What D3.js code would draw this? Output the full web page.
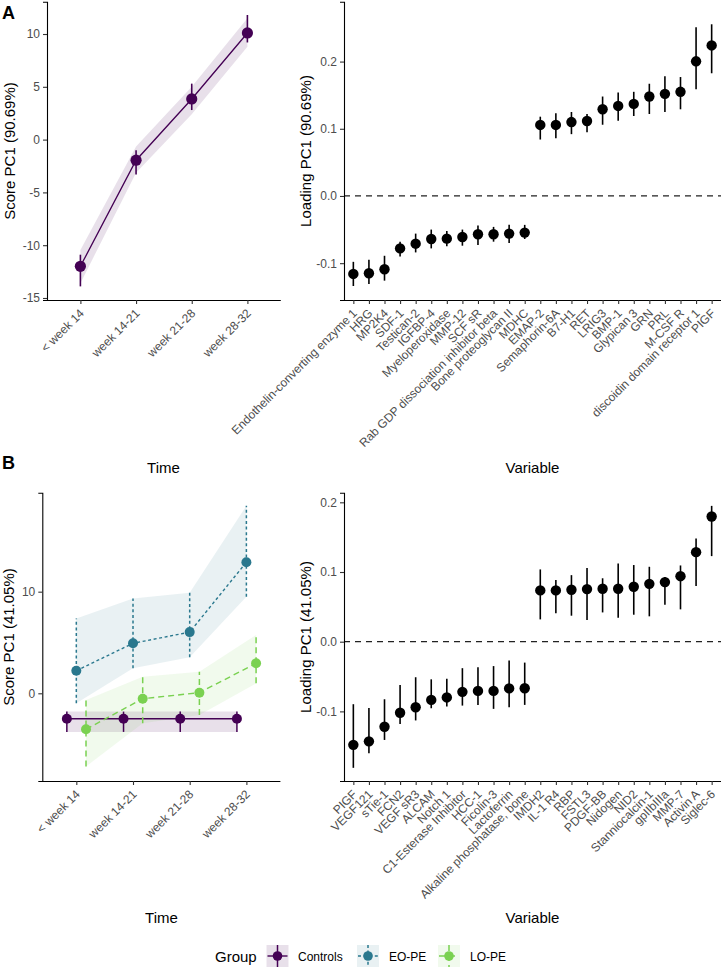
<!DOCTYPE html>
<html><head><meta charset="utf-8">
<script src="https://cdn.jsdelivr.net/npm/d3@7"></script>
<style>body{margin:0;background:#fff}svg{display:block}text{font-family:"Liberation Sans",Arial,sans-serif}</style>
</head><body>
<svg id="c" width="723" height="968"></svg>
<script>
// ---------- DATA ----------
const timeLabels = ["< week 14", "week 14-21", "week 21-28", "week 28-32"];

// Panel A left
const scoreA     = [-12.0, -1.95, 3.85, 10.1];
const scoreALow  = [-13.9, -3.3, 2.8, 9.2];
const scoreAHigh = [-10.9, -1.0, 5.3, 11.8];
const ribbonALow  = [-13.6, -3.15, 2.4, 8.8];
const ribbonAHigh = [-10.45, -0.65, 5.0, 11.5];

// Panel A right
const varsA = ["Endothelin-converting enzyme 1","HRG","MP2K4","SDF-1","Testican-2","IGFBP-4","Myeloperoxidase","MMP-12","SCF sR","Rab GDP dissociation inhibitor beta","Bone proteoglycan II","MDHC","EMAP-2","Semaphorin-6A","B7-H1","RET","LRIG3","BMP-1","Glypican 3","GRN","PRL","M-CSF R","discoidin domain receptor 1","PIGF"];
const loadA     = [-0.116,-0.115,-0.109,-0.078,-0.071,-0.064,-0.0635,-0.061,-0.057,-0.057,-0.056,-0.0545,0.1057,0.1057,0.110,0.1116,0.129,0.134,0.137,0.148,0.152,0.155,0.2004,0.224];
const loadALow  = [-0.134,-0.131,-0.126,-0.090,-0.084,-0.078,-0.075,-0.074,-0.073,-0.068,-0.070,-0.064,0.084,0.086,0.092,0.095,0.106,0.112,0.119,0.122,0.125,0.129,0.159,0.1826];
const loadAHigh = [-0.098,-0.095,-0.089,-0.068,-0.056,-0.050,-0.052,-0.050,-0.044,-0.046,-0.043,-0.043,0.118,0.123,0.125,0.122,0.148,0.154,0.155,0.167,0.178,0.177,0.251,0.2555];

// Panel B left (groups)
const groups = ["Controls", "EO-PE", "LO-PE"];
const ctrlMean = [-2.5, -2.5, -2.5, -2.5];
const ctrlLow  = [-3.8, -3.8, -3.8, -3.8];
const ctrlHigh = [-1.8, -1.8, -1.8, -1.8];
const eoMean = [2.22, 4.92, 6.02, 12.9];
const eoLow  = [-0.98, 2.46, 3.54, 9.5];
const eoHigh = [7.37, 9.34, 9.9, 18.45];
const loMean = [-3.54, -0.53, 0.06, 2.95];
const loLow  = [-7.2, -2.95, -2.13, 0.98];
const loHigh = [-0.66, 1.63, 2.12, 5.73];

// Panel B right
const varsB = ["PIGF","VEGF121","sTie-1","FCN2","VEGF sR3","ALCAM","Notch 1","C1-Esterase Inhibitor","HCC-1","Ficolin-3","Lactoferrin","Alkaline phosphatase, bone","IMDH2","IL-1 R4","RBP","FSTL3","PDGF-BB","Nidogen","NID2","Stanniocalcin-1","gpIIbIIIa","MMP-7","Activin A","Siglec-6"];
const loadB     = [-0.148,-0.143,-0.122,-0.102,-0.094,-0.0835,-0.080,-0.072,-0.0706,-0.0706,-0.067,-0.0668,0.0736,0.0736,0.0745,0.0755,0.076,0.076,0.0788,0.083,0.0855,0.094,0.1285,0.1797];
const loadBLow  = [-0.181,-0.160,-0.141,-0.118,-0.113,-0.0955,-0.093,-0.0917,-0.0907,-0.0964,-0.094,-0.0907,0.032,0.0407,0.0373,0.031,0.042,0.0344,0.0387,0.0364,0.053,0.0464,0.0798,0.1228];
const loadBHigh = [-0.0897,-0.095,-0.0826,-0.062,-0.051,-0.054,-0.053,-0.038,-0.0367,-0.035,-0.027,-0.030,0.1037,0.0884,0.0955,0.1056,0.091,0.1123,0.110,0.1075,0.093,0.1094,0.148,0.1949];

const yTicksAL = [-15, -10, -5, 0, 5, 10];
const yTicksLoad = [-0.1, 0.0, 0.1, 0.2];
const yTicksBL = [0, 10];

// ---------- STYLE ----------
const colors = {"Controls": "#440154", "EO-PE": "#2A788E", "LO-PE": "#7AD151"};
const dashes = {"Controls": null, "EO-PE": "3,2.6", "LO-PE": "6,4"};
const FONT = '"Liberation Sans",Arial,sans-serif';
const svg = d3.select("#c");

function yAxis(g, x, y, ticks, fmt) {
  const ax = d3.axisLeft(y).tickValues(ticks).tickFormat(fmt).tickSize(4).tickPadding(3);
  const a = g.append("g").attr("transform", `translate(${x},0)`).call(ax);
  a.select(".domain").attr("stroke", "#000").attr("stroke-width", 1.1);
  a.selectAll(".tick line").attr("stroke", "#333").attr("stroke-width", 1.1);
  a.selectAll(".tick text").attr("fill", "#4D4D4D").style("font-size", "12px").style("font-family", FONT);
}
function xAxis(g, x, yPos, fontSize) {
  const ax = d3.axisBottom(x).tickSize(4).tickPadding(0).tickFormat(d => d);
  const a = g.append("g").attr("transform", `translate(0,${yPos})`).call(ax);
  a.select(".domain").attr("stroke", "#000").attr("stroke-width", 1.1).attr("d", `M${x.range()[0]},0.5H${x.range()[1]}`);
  a.selectAll(".tick line").attr("stroke", "#333").attr("stroke-width", 1.1);
  a.selectAll(".tick text").attr("fill", "#4D4D4D").style("font-size", fontSize + "px").style("font-family", FONT)
    .attr("text-anchor", "end").attr("y", 0).attr("dy", "0.7em")
    .attr("transform", "translate(-2,8) rotate(-45)");
}
function fmtNum(d) { return Number.isInteger(d) ? String(d) : d.toFixed(1); }
function fmtLoad(d) { return d.toFixed(1); }

function yTitle(text, x, yc) {
  svg.append("text").attr("transform", `translate(${x},${yc}) rotate(-90)`).attr("text-anchor", "middle")
    .style("font-size", "15px").attr("fill", "#000").text(text);
}
function xTitle(text, xc, y) {
  svg.append("text").attr("x", xc).attr("y", y).attr("text-anchor", "middle").style("font-size", "15px").attr("fill", "#000").text(text);
}
function zeroLine(g, y) {
  g.append("line").attr("x1", 344).attr("x2", 721).attr("y1", y(0)).attr("y2", y(0))
    .attr("stroke", "#222").attr("stroke-width", 1.2).attr("stroke-dasharray", "6,5");
}

// ---------- PANEL A LEFT ----------
{
  const x = d3.scalePoint().domain(timeLabels).range([47, 280.8]).padding(0.6);
  const y = d3.scaleLinear().domain([-15.19, 13.06]).range([300, 1.7]);
  const g = svg.append("g");
  const idx = d3.range(timeLabels.length);
  g.append("path").datum(idx).attr("fill", colors.Controls).attr("fill-opacity", 0.12)
    .attr("d", d3.area().x(i => x(timeLabels[i])).y0(i => y(ribbonALow[i])).y1(i => y(ribbonAHigh[i])));
  g.append("path").datum(idx).attr("fill", "none").attr("stroke", colors.Controls).attr("stroke-width", 1.3)
    .attr("d", d3.line().x(i => x(timeLabels[i])).y(i => y(scoreA[i])));
  g.selectAll(".eb").data(idx).join("line").attr("stroke", colors.Controls).attr("stroke-width", 1.6)
    .attr("x1", i => x(timeLabels[i])).attr("x2", i => x(timeLabels[i]))
    .attr("y1", i => y(scoreALow[i])).attr("y2", i => y(scoreAHigh[i]));
  g.selectAll(".pt").data(idx).join("circle").attr("fill", colors.Controls).attr("r", 5.6)
    .attr("cx", i => x(timeLabels[i])).attr("cy", i => y(scoreA[i]));
  yAxis(g, 47, y, yTicksAL, fmtNum);
  xAxis(g, x, 300, 12);
  yTitle("Score PC1 (90.69%)", 14.5, 151);
  xTitle("Time", 163.5, 473);
}

// ---------- PANEL A RIGHT ----------
{
  const x = d3.scalePoint().domain(varsA).range([344, 721]).padding(0.6);
  const y = d3.scaleLinear().domain([-0.1548, 0.2891]).range([300, 1.7]);
  const g = svg.append("g");
  zeroLine(g, y);
  const idx = d3.range(varsA.length);
  g.selectAll(".eb").data(idx).join("line").attr("stroke", "#000").attr("stroke-width", 1.6)
    .attr("x1", i => x(varsA[i])).attr("x2", i => x(varsA[i]))
    .attr("y1", i => y(loadALow[i])).attr("y2", i => y(loadAHigh[i]));
  g.selectAll(".pt").data(idx).join("circle").attr("fill", "#000").attr("r", 5.2)
    .attr("cx", i => x(varsA[i])).attr("cy", i => y(loadA[i]));
  yAxis(g, 344, y, yTicksLoad, fmtLoad);
  xAxis(g, x, 300, 12);
  yTitle("Loading PC1 (90.69%)", 311, 151);
  xTitle("Variable", 532.5, 473);
}

// ---------- PANEL B LEFT ----------
{
  const x = d3.scalePoint().domain(timeLabels).range([42.3, 280.4]).padding(0.6);
  const y = d3.scaleLinear().domain([-8.63, 19.74]).range([781, 492.7]);
  const step = x.step();
  const offs = {"Controls": -0.167 * step, "EO-PE": 0, "LO-PE": 0.171 * step};
  const series = [
    {k: "Controls", m: ctrlMean, lo: ctrlLow, hi: ctrlHigh},
    {k: "EO-PE", m: eoMean, lo: eoLow, hi: eoHigh},
    {k: "LO-PE", m: loMean, lo: loLow, hi: loHigh}
  ];
  const g = svg.append("g");
  const idx = d3.range(timeLabels.length);
  series.forEach(s => {
    g.append("path").datum(idx).attr("fill", colors[s.k]).attr("fill-opacity", s.k === "Controls" ? 0.12 : 0.1)
      .attr("d", d3.area().x(i => x(timeLabels[i]) + offs[s.k]).y0(i => y(s.lo[i])).y1(i => y(s.hi[i])));
  });
  series.forEach(s => {
    g.append("path").datum(idx).attr("fill", "none").attr("stroke", colors[s.k]).attr("stroke-width", 1.4)
      .attr("stroke-dasharray", dashes[s.k])
      .attr("d", d3.line().x(i => x(timeLabels[i]) + offs[s.k]).y(i => y(s.m[i])));
    g.selectAll(null).data(idx).join("line").attr("stroke", colors[s.k]).attr("stroke-width", 1.5)
      .attr("stroke-dasharray", dashes[s.k])
      .attr("x1", i => x(timeLabels[i]) + offs[s.k]).attr("x2", i => x(timeLabels[i]) + offs[s.k])
      .attr("y1", i => y(s.lo[i])).attr("y2", i => y(s.hi[i]));
    g.selectAll(null).data(idx).join("circle").attr("fill", colors[s.k]).attr("r", 5)
      .attr("cx", i => x(timeLabels[i]) + offs[s.k]).attr("cy", i => y(s.m[i]));
  });
  yAxis(g, 42.3, y, yTicksBL, fmtNum);
  xAxis(g, x, 781, 12);
  yTitle("Score PC1 (41.05%)", 14, 637);
  xTitle("Time", 161.5, 923);
}

// ---------- PANEL B RIGHT ----------
{
  const x = d3.scalePoint().domain(varsB).range([344, 721]).padding(0.6);
  const y = d3.scaleLinear().domain([-0.1999, 0.2138]).range([781, 492.7]);
  const g = svg.append("g");
  zeroLine(g, y);
  const idx = d3.range(varsB.length);
  g.selectAll(".eb").data(idx).join("line").attr("stroke", "#000").attr("stroke-width", 1.6)
    .attr("x1", i => x(varsB[i])).attr("x2", i => x(varsB[i]))
    .attr("y1", i => y(loadBLow[i])).attr("y2", i => y(loadBHigh[i]));
  g.selectAll(".pt").data(idx).join("circle").attr("fill", "#000").attr("r", 5.2)
    .attr("cx", i => x(varsB[i])).attr("cy", i => y(loadB[i]));
  yAxis(g, 344, y, yTicksLoad, fmtLoad);
  xAxis(g, x, 781, 12);
  yTitle("Loading PC1 (41.05%)", 311, 637);
  xTitle("Variable", 532.5, 923);
}

// ---------- TAGS ----------
svg.append("text").attr("x", 2).attr("y", 19).style("font-size", "18px").style("font-weight", "bold").text("A");
svg.append("text").attr("x", 2).attr("y", 469).style("font-size", "18px").style("font-weight", "bold").text("B");

// ---------- LEGEND ----------
{
  const lg = svg.append("g");
  lg.append("text").attr("x", 215).attr("y", 962).style("font-size", "15px").attr("fill", "#000").text("Group");
  const keyX = [266.5, 357, 438];
  const labX = [298, 389, 470];
  groups.forEach((k, i) => {
    const kx = keyX[i], ky = 945, s = 22;
    lg.append("rect").attr("x", kx).attr("y", ky).attr("width", s).attr("height", s)
      .attr("fill", colors[k]).attr("fill-opacity", k === "Controls" ? 0.12 : 0.1);
    lg.append("line").attr("x1", kx + s / 2).attr("x2", kx + s / 2).attr("y1", ky).attr("y2", ky + s)
      .attr("stroke", colors[k]).attr("stroke-width", 1.5).attr("stroke-dasharray", dashes[k]);
    lg.append("line").attr("x1", kx + 1).attr("x2", kx + s - 1).attr("y1", ky + s / 2).attr("y2", ky + s / 2)
      .attr("stroke", colors[k]).attr("stroke-width", 1.4).attr("stroke-dasharray", dashes[k]);
    lg.append("circle").attr("cx", kx + s / 2).attr("cy", ky + s / 2).attr("r", 4.8).attr("fill", colors[k]);
    lg.append("text").attr("x", labX[i]).attr("y", 960.5).style("font-size", "12px").attr("fill", "#000").text(k);
  });
}
</script>
</body></html>
